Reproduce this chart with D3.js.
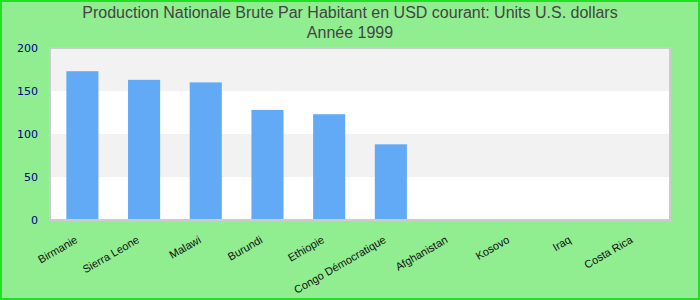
<!DOCTYPE html>
<html>
<head>
<meta charset="utf-8">
<script src="https://cdn.jsdelivr.net/npm/d3@7"></script>
<style>
  html, body { margin: 0; padding: 0; }
  body { width: 700px; height: 300px; overflow: hidden; }
</style>
</head>
<body>
<div class="chart--container"></div>
<script>
let categories = ['Birmanie', 'Sierra Leone', 'Malawi', 'Burundi', 'Ethiopie',
                  'Congo Démocratique', 'Afghanistan', 'Kosovo', 'Iraq', 'Costa Rica'],
    values = [173, 163, 160, 128, 123, 88, null, null, null, null],
    yTicks = [0, 50, 100, 150, 200],
    bands = [[50, 100], [150, 200]],           // grey stripes
    titleLines = ['Production Nationale Brute Par Habitant en USD courant: Units U.S. dollars',
                  'Année 1999'];

let W = 700, H = 300,
    margin = {t: 48, l: 50, b: 80, r: 30},
    width = W - margin.l - margin.r,
    height = H - margin.t - margin.b;

let root = d3.select('.chart--container')
    .append('svg')
    .attr('width', W)
    .attr('height', H);

// background + outer border
root.append('rect')
    .attr('x', 1).attr('y', 1)
    .attr('width', W - 2).attr('height', H - 2)
    .attr('fill', '#90ee90')
    .attr('stroke', '#22e022')
    .attr('stroke-width', 2);

// title
root.append('text')
    .attr('x', W / 2)
    .attr('text-anchor', 'middle')
    .attr('font-family', 'Liberation Sans, Arial, sans-serif')
    .attr('font-size', 16)
    .attr('fill', '#444')
    .selectAll('tspan')
    .data(titleLines)
    .enter()
    .append('tspan')
    .attr('x', W / 2)
    .attr('y', (d, i) => 18 + i * 20)
    .text(d => d);

let svg = root.append('g')
    .attr('transform', `translate(${margin.l}, ${margin.t})`);

let scale_x = d3.scaleBand()
    .domain(categories)
    .range([0, width])
    .paddingInner(0.48)
    .paddingOuter(0.265);

let scale_y = d3.scaleLinear()
    .domain([0, 200])
    .range([height, 0]);

// plot area
svg.append('rect')
    .attr('x', 0).attr('y', 0)
    .attr('width', width).attr('height', height)
    .attr('fill', '#fff')
    .attr('stroke', '#cccccc')
    .attr('stroke-width', 2);

svg.selectAll('rect.band')
    .data(bands)
    .enter()
    .append('rect')
    .attr('class', 'band')
    .attr('x', 1)
    .attr('width', width - 2)
    .attr('y', d => scale_y(d[1]) + (d[1] === 200 ? 1 : 0))
    .attr('height', d => scale_y(d[0]) - scale_y(d[1]) - (d[1] === 200 ? 1 : 0))
    .attr('fill', '#f2f2f2');

// bars
svg.selectAll('rect.bar')
    .data(categories.filter((c, i) => values[i] != null))
    .enter()
    .append('rect')
    .attr('class', 'bar')
    .attr('x', c => scale_x(c))
    .attr('width', scale_x.bandwidth())
    .attr('y', c => scale_y(values[categories.indexOf(c)]))
    .attr('height', c => height - scale_y(values[categories.indexOf(c)]) - 1)
    .attr('fill', '#62aaf5');

// y axis
let yAxis = svg.append('g')
    .call(d3.axisLeft(scale_y).tickValues(yTicks).tickSize(0).tickPadding(12));
yAxis.select('.domain').remove();
yAxis.selectAll('text')
    .attr('font-family', 'DejaVu Sans, sans-serif')
    .attr('font-size', 11)
    .attr('fill', '#00008b');

// x axis
let xAxis = svg.append('g')
    .attr('transform', `translate(0, ${height})`)
    .call(d3.axisBottom(scale_x).tickSize(0).tickPadding(0));
xAxis.select('.domain').remove();
xAxis.selectAll('text')
    .attr('font-family', 'Liberation Sans, Arial, sans-serif')
    .attr('font-size', 11)
    .attr('fill', '#111')
    .attr('text-anchor', 'end')
    .attr('dy', 0)
    .attr('transform', 'translate(-4, 22) rotate(-30)');
</script>
</body>
</html>
